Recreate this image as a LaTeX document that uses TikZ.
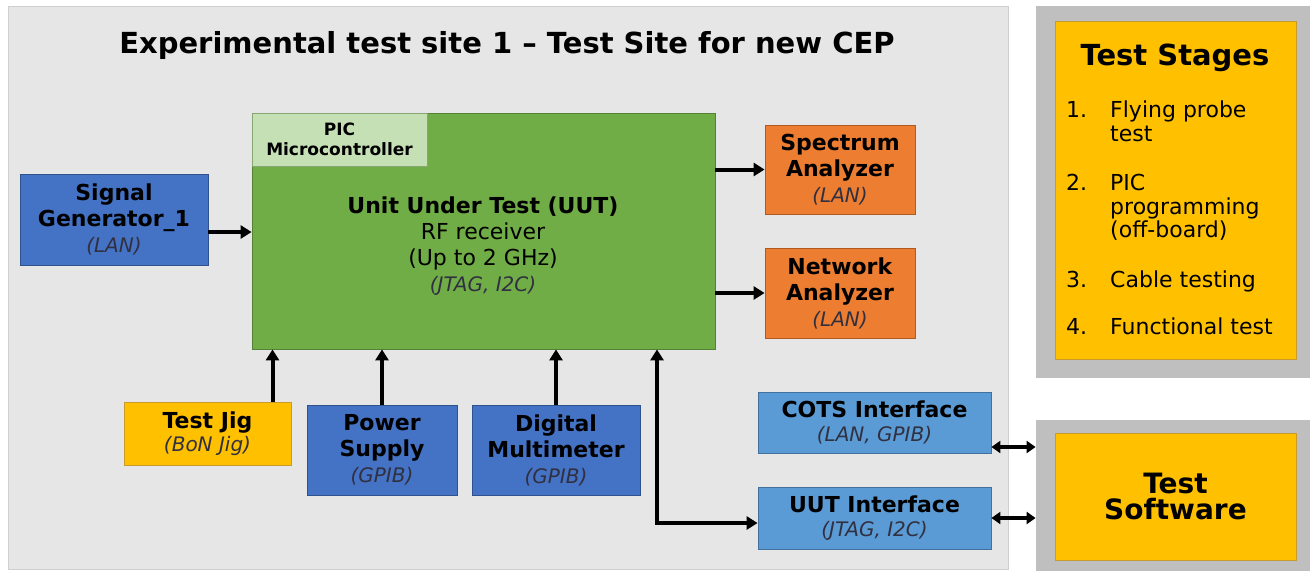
\documentclass[tikz,border=0pt]{standalone}
\usepackage{fontspec}
\setmainfont{DejaVu Sans}
\usetikzlibrary{arrows.meta,calc}

\definecolor{panelgray}{HTML}{E7E6E6}
\definecolor{panelline}{HTML}{D0CECE}
\definecolor{framegray}{HTML}{BFBFBF}
\definecolor{gold}{HTML}{FFC000}
\definecolor{goldline}{HTML}{C99A2E}
\definecolor{uutgreen}{HTML}{70AD47}
\definecolor{uutline}{HTML}{548235}
\definecolor{picgreen}{HTML}{C5E0B4}
\definecolor{instblue}{HTML}{4472C4}
\definecolor{instline}{HTML}{2F528F}
\definecolor{ifblue}{HTML}{5B9BD5}
\definecolor{ifline}{HTML}{41719C}
\definecolor{anaorange}{HTML}{ED7D31}
\definecolor{analine}{HTML}{AE5A21}
\definecolor{subtext}{HTML}{303040}

\tikzset{
  x=1pt, y=-1pt,
  bx/.style={rectangle, inner sep=0pt, align=center, line width=0.8pt},
  instbox/.style={bx, fill=instblue, draw=instline},
  ifbox/.style={bx, fill=ifblue, draw=ifline},
  anabox/.style={bx, fill=anaorange, draw=analine},
  goldbox/.style={bx, fill=gold, draw=goldline},
  boxfont/.style={font=\fontsize{22}{26}\selectfont},
  conn/.style={line width=4pt, -{Triangle[length=11pt,width=13pt]}},
  bothconn/.style={line width=4pt, {Triangle[length=9pt,width=12pt]}-{Triangle[length=9pt,width=12pt]}},
  stageline/.style={anchor=base west, font=\fontsize{22}{24}\selectfont, inner sep=0pt},
}
\newcommand{\sub}[1]{{\fontsize{20}{24}\selectfont\itshape\color{subtext}#1}}

\begin{document}
\begin{tikzpicture}
\useasboundingbox (0,0) rectangle (1312,571);
\fill[white] (0,0) rectangle (1312,571);

% test site panel
\node[bx, fill=panelgray, draw=panelline, minimum width=1000pt, minimum height=563pt] (panel) at (508,287.5) {};
\node[font=\fontsize{29}{34}\selectfont\bfseries] (title) at (507,45) {Experimental test site 1 -- Test Site for new CEP};

% test stages frame
\node[bx, fill=framegray, draw=none, minimum width=274pt, minimum height=372pt] (stagesframe) at (1173,192) {};
\node[goldbox, minimum width=241pt, minimum height=338pt] (stages) at (1175.5,190) {};
\node[font=\fontsize{29}{34}\selectfont\bfseries] (stagestitle) at (1175,58) {Test Stages};
\node[stageline] (n1) at (1066,117) {1.};
\node[stageline] (t1a) at (1110,117) {Flying probe};
\node[stageline] (t1b) at (1110,141) {test};
\node[stageline] (n2) at (1066,190) {2.};
\node[stageline] (t2a) at (1110,190) {PIC};
\node[stageline] (t2b) at (1110,214) {programming};
\node[stageline] (t2c) at (1110,237) {(off-board)};
\node[stageline] (n3) at (1066,287) {3.};
\node[stageline] (t3) at (1110,287) {Cable testing};
\node[stageline] (n4) at (1066,334) {4.};
\node[stageline] (t4) at (1110,334) {Functional test};

% test software frame
\node[bx, fill=framegray, draw=none, minimum width=274pt, minimum height=151pt] (swframe) at (1173,495.5) {};
\node[goldbox, minimum width=241pt, minimum height=127pt, font=\fontsize{28}{26}\selectfont\bfseries] (sw) at (1175.5,496.5) {Test\\Software};

% unit under test
\node[bx, fill=uutgreen, draw=uutline, minimum width=463pt, minimum height=236pt] (uut) at (483.5,231) {};
\node[bx, fill=picgreen, draw=uutline!70, minimum width=175pt, minimum height=53pt, font=\fontsize{17}{20}\selectfont\bfseries] (pic) at (339.5,139.5) {PIC\\Microcontroller};
\node[align=center, font=\fontsize{22}{26}\selectfont] (uuttext) at (483,246)
  {\textbf{Unit Under Test (UUT)}\\RF receiver\\(Up to 2 GHz)\\\sub{(JTAG, I2C)}};

% instruments
\node[instbox, boxfont, minimum width=188pt, minimum height=91pt] (siggen) at (114,219.5)
  {\textbf{Signal}\\\textbf{Generator\_1}\\\sub{(LAN)}};
\node[anabox, boxfont, minimum width=150pt, minimum height=89pt] (spec) at (840,169.5)
  {\textbf{Spectrum}\\\textbf{Analyzer}\\\sub{(LAN)}};
\node[anabox, boxfont, minimum width=150pt, minimum height=90pt] (net) at (840,293)
  {\textbf{Network}\\\textbf{Analyzer}\\\sub{(LAN)}};
\node[goldbox, boxfont, minimum width=167pt, minimum height=63pt] (jig) at (207.5,433.5)
  {\textbf{Test Jig}\\[-3pt]\sub{(BoN Jig)}};
\node[instbox, boxfont, minimum width=150pt, minimum height=90pt] (psu) at (382,450)
  {\textbf{Power}\\\textbf{Supply}\\\sub{(GPIB)}};
\node[instbox, boxfont, minimum width=168pt, minimum height=90pt] (dmm) at (556,450)
  {\textbf{Digital}\\\textbf{Multimeter}\\\sub{(GPIB)}};

% interfaces
\node[ifbox, boxfont, minimum width=233pt, minimum height=61pt] (cots) at (874.5,422.5)
  {\textbf{COTS Interface}\\[-2pt]\sub{(LAN, GPIB)}};
\node[ifbox, boxfont, minimum width=233pt, minimum height=62pt] (uutif) at (874.5,518)
  {\textbf{UUT Interface}\\[-2pt]\sub{(JTAG, I2C)}};

% connectors
\coordinate (sigout) at ([yshift=-12.5pt]siggen.east);
\draw[conn] (sigout) -- (sigout -| uut.west);
\draw[conn] (uut.east |- spec.west) -- (spec.west);
\draw[conn] (uut.east |- net.west) -- (net.west);
\coordinate (jigout) at ([xshift=65pt]jig.north);
\draw[conn] (jigout) -- (jigout |- uut.south);
\draw[conn] (psu.north) -- (psu.north |- uut.south);
\draw[conn] (dmm.north) -- (dmm.north |- uut.south);
\coordinate (bend) at (657,523);
\draw[line width=4pt, {Triangle[length=11pt,width=13pt]}-{Triangle[length=11pt,width=13pt]}]
  (uut.south -| bend) |- (uutif.west |- bend);
\coordinate (cotsout) at ([yshift=-24.5pt]cots.east);
\draw[bothconn] (cotsout) -- (cotsout -| swframe.west);
\draw[bothconn] (uutif.east) -- (uutif.east -| swframe.west);
\end{tikzpicture}
\end{document}
